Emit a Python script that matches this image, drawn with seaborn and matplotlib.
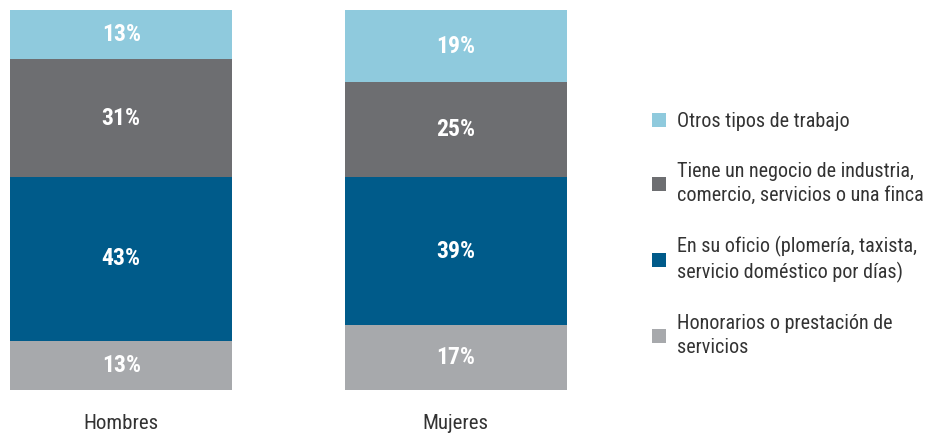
import matplotlib.pyplot as plt
import numpy as np
import pandas as pd
import seaborn as sns
from matplotlib.patches import Patch

groups = ["Hombres", "Mujeres"]
categories = [
    "Honorarios o prestación de\nservicios",
    "En su oficio (plomería, taxista,\nservicio doméstico por días)",
    "Tiene un negocio de industria,\ncomercio, servicios o una finca",
    "Otros tipos de trabajo",
]
honorarios = [13, 17]
oficio = [43, 39]
negocio = [31, 25]
otros = [13, 19]
colors = ["#A7A9AC", "#005B8A", "#6D6E71", "#8FCADD"]

sns.set_style("white")
plt.rcParams["font.family"] = ["Roboto Condensed", "DejaVu Sans Condensed", "Roboto", "DejaVu Sans"]

series = [honorarios, oficio, negocio, otros]
fig = plt.figure(figsize=(9.25, 4.34), dpi=100)
ax = fig.add_axes([10 / 925, 44 / 434, 557 / 925, 380 / 434])

# stacked bars, bottom to top
bottom = np.zeros(len(groups))
for name, vals, col in zip(categories, series, colors):
    df = pd.DataFrame({"grupo": groups, "pct": vals})
    sns.barplot(data=df, x="grupo", y="pct", bottom=bottom, color=col,
                width=0.665, saturation=1, ax=ax, edgecolor="none")
    for i, v in enumerate(vals):
        ax.text(i, bottom[i] + v / 2, f"{v}%", ha="center", va="center",
                color="white", fontsize=17, fontweight="bold")
    bottom = bottom + np.array(vals)

ax.set_xlim(-0.3325, 1.3325)
ax.set_ylim(0, 100)
ax.set_yticks([])
ax.set_xlabel("")
ax.set_ylabel("")
ax.tick_params(axis="x", length=0, labelsize=15, labelcolor="#333333", pad=17)
sns.despine(left=True, bottom=True)

handles = [Patch(facecolor=c, edgecolor="none") for c in colors[::-1]]
leg = fig.legend(handles, categories[::-1], loc="upper left",
                 bbox_to_anchor=(634 / 925, 1 - 94 / 434), frameon=False,
                 fontsize=14.5, labelcolor="#333333", handlelength=0.7, handleheight=0.7,
                 handletextpad=0.55, labelspacing=1.55)
for t in leg.get_texts():
    t.set_linespacing(1.3)

fig.savefig("out.png", dpi=100, facecolor="white")
